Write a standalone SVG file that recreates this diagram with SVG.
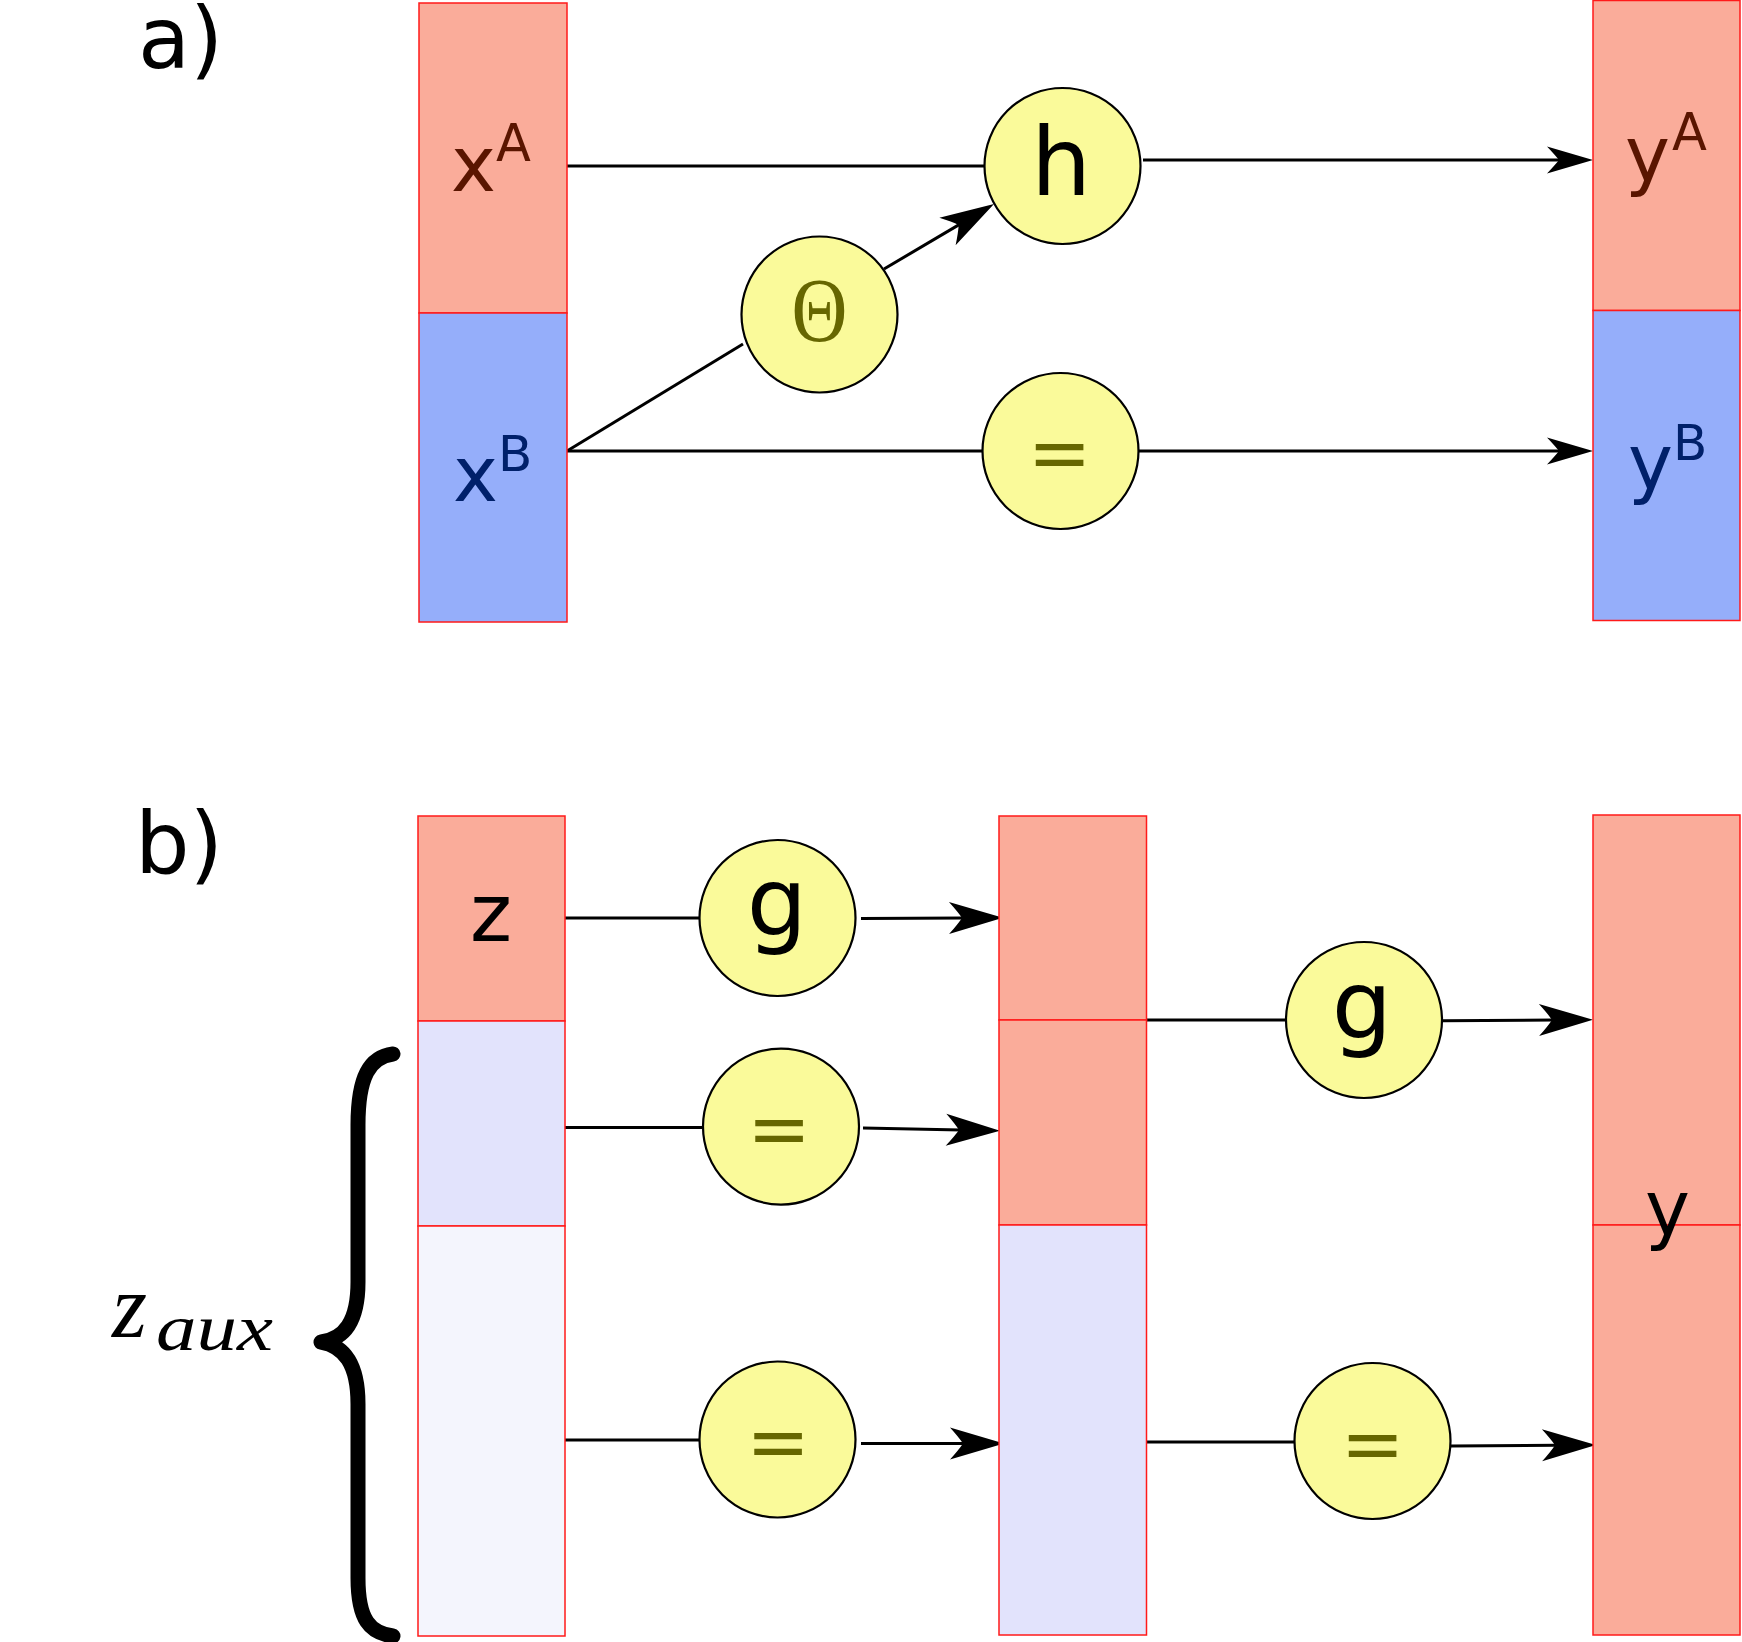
<svg xmlns="http://www.w3.org/2000/svg" width="1742" height="1642" viewBox="0 0 1742 1642">
<style>
.sal{fill:#faac9a;stroke:#ff1a1a;stroke-width:1.5}
.blu{fill:#95aefa;stroke:#ff1a1a;stroke-width:1.5}
.lav{fill:#e2e3fc;stroke:#ff1a1a;stroke-width:1.5}
.pale{fill:#f4f5fd;stroke:#ff1a1a;stroke-width:1.5}
.node{fill:#fafa9a;stroke:#000;stroke-width:2.2}
.ln{fill:none;stroke:#000;stroke-width:3}
.arr{marker-end:url(#ah)}
.arrb{marker-end:url(#ahb)}
.sans{font-family:"DejaVu Sans","Bitstream Vera Sans",sans-serif}
.eq{font-family:"DejaVu Sans",sans-serif;font-size:76px;fill:#666600;text-anchor:middle}
.op{font-family:"DejaVu Sans",sans-serif;font-size:95px;fill:#000;text-anchor:middle}
</style>
<defs>
<marker id="ah" markerUnits="userSpaceOnUse" viewBox="-50 -16 54 32" refX="-33" refY="0" markerWidth="54" markerHeight="32" orient="auto" overflow="visible">
<path d="M0,0 L-46,-13.5 Q-38,-5 -34,0 Q-38,5 -46,13.5 Z" fill="#000"/>
</marker>
<marker id="ahb" markerUnits="userSpaceOnUse" viewBox="-58 -18 62 36" refX="-39" refY="0" markerWidth="62" markerHeight="36" orient="auto" overflow="visible">
<path d="M0,0 L-54,-16 Q-45,-6 -41,0 Q-45,6 -54,16 Z" fill="#000"/>
</marker>
</defs>
<rect width="1742" height="1642" fill="#fff"/>

<g id="label-a"><text class="sans" x="138" y="68" font-size="85">a)</text></g>
<g id="label-b"><text class="sans" x="135" y="873" font-size="86">b)</text></g>

<g id="connectors">
<line class="ln" x1="567" y1="166" x2="984" y2="166"/>
<line class="ln arr" x1="1143" y1="160" x2="1560" y2="160"/>
<line class="ln" x1="567" y1="451" x2="743" y2="344"/>
<line class="ln arrb" x1="884" y1="269" x2="960.4" y2="223.9"/>
<line class="ln" x1="567" y1="451" x2="982" y2="451"/>
<line class="ln arr" x1="1139" y1="451" x2="1560" y2="451"/>

<line class="ln" x1="563" y1="918" x2="699" y2="918"/>
<line class="ln arrb" x1="861" y1="918.5" x2="964" y2="918"/>
<line class="ln" x1="565" y1="1127.5" x2="703" y2="1127.5"/>
<line class="ln arrb" x1="863" y1="1128" x2="961" y2="1130"/>
<line class="ln" x1="565" y1="1440" x2="699" y2="1440"/>
<line class="ln arrb" x1="861" y1="1443.6" x2="965" y2="1443.5"/>
<line class="ln" x1="1146.6" y1="1020" x2="1286" y2="1020"/>
<line class="ln arrb" x1="1443" y1="1020.8" x2="1554" y2="1020"/>
<line class="ln" x1="1146.6" y1="1442" x2="1294" y2="1442"/>
<line class="ln arrb" x1="1451" y1="1446" x2="1557" y2="1445.2"/>
</g>

<g id="xA"><rect class="sal" x="419" y="3" width="148" height="310"/>
<text class="sans" x="451" y="191" font-size="76" fill="#5a1500">x<tspan dy="-30" font-size="51">A</tspan></text></g>
<g id="xB"><rect class="blu" x="419" y="313" width="148" height="309"/>
<text class="sans" x="453" y="501" font-size="76" fill="#00206a">x<tspan dy="-30.5" font-size="50">B</tspan></text></g>

<g id="yA"><rect class="sal" x="1593" y="0.5" width="147" height="310"/>
<text class="sans" x="1625" y="181" font-size="76" fill="#5a1500">y<tspan dx="2" dy="-31" font-size="51">A</tspan></text></g>
<g id="yB"><rect class="blu" x="1593" y="310.5" width="147" height="310"/>
<text class="sans" x="1628" y="489" font-size="76" fill="#00206a">y<tspan dy="-29" font-size="50">B</tspan></text></g>

<g id="h"><circle class="node" cx="1062.5" cy="166" r="78"/>
<text class="op" x="1061" y="194.5" font-size="92">h</text></g>
<g id="theta"><circle class="node" cx="819.5" cy="314.5" r="78"/>
<text x="0" y="0" transform="translate(819.5,341) scale(0.86,1)" font-family="Liberation Serif,serif" font-size="90" fill="#666600" text-anchor="middle">Θ</text></g>
<g id="eq-a"><circle class="node" cx="1060.5" cy="451" r="78"/>
<text class="eq" x="1059.5" y="478.5">=</text></g>

<g id="z"><rect class="sal" x="418" y="816" width="147" height="205"/>
<text class="sans" x="491" y="941" font-size="80" text-anchor="middle">z</text></g>
<g id="zaux1"><rect class="lav" x="418" y="1021" width="147" height="205"/></g>
<g id="zaux2"><rect class="pale" x="418" y="1226" width="147" height="410"/></g>

<g id="brace"><path d="M393,1054 C370,1057 358,1076 358,1125 L358,1282 C358,1322 344,1339 321,1342 C344,1346 358,1364 358,1404 L358,1578 C358,1620 370,1633 393,1636" fill="none" stroke="#000" stroke-width="15" stroke-linecap="round" stroke-linejoin="round"/></g>
<g id="zaux-label"><text font-family="Liberation Serif,serif" font-style="italic" fill="#000"><tspan x="112" y="1336.5" font-size="90">z</tspan><tspan x="156" y="1350" font-size="66" textLength="117" lengthAdjust="spacingAndGlyphs">aux</tspan></text></g>

<g id="g1"><circle class="node" cx="777.5" cy="918" r="78"/>
<text class="op" x="777" y="935">g</text></g>
<g id="eq-b1"><circle class="node" cx="781" cy="1126.6" r="78"/>
<text class="eq" x="779" y="1155">=</text></g>
<g id="eq-b2"><circle class="node" cx="777.5" cy="1439.5" r="78"/>
<text class="eq" x="778" y="1468">=</text></g>

<g id="mid1"><rect class="sal" x="999" y="816" width="147.5" height="204"/></g>
<g id="mid2"><rect class="sal" x="999" y="1020" width="147.5" height="205"/></g>
<g id="mid3"><rect class="lav" x="999" y="1225" width="147.5" height="410"/></g>

<g id="g2"><circle class="node" cx="1364" cy="1020" r="78"/>
<text class="op" x="1362" y="1038">g</text></g>
<g id="eq-b3"><circle class="node" cx="1372.5" cy="1441" r="78"/>
<text class="eq" x="1372.5" y="1470">=</text></g>

<g id="y"><rect class="sal" x="1593" y="815" width="147" height="410"/>
<rect class="sal" x="1593" y="1225" width="147" height="410"/>
<text class="sans" x="1667.5" y="1235" font-size="76" text-anchor="middle">y</text></g>
</svg>
